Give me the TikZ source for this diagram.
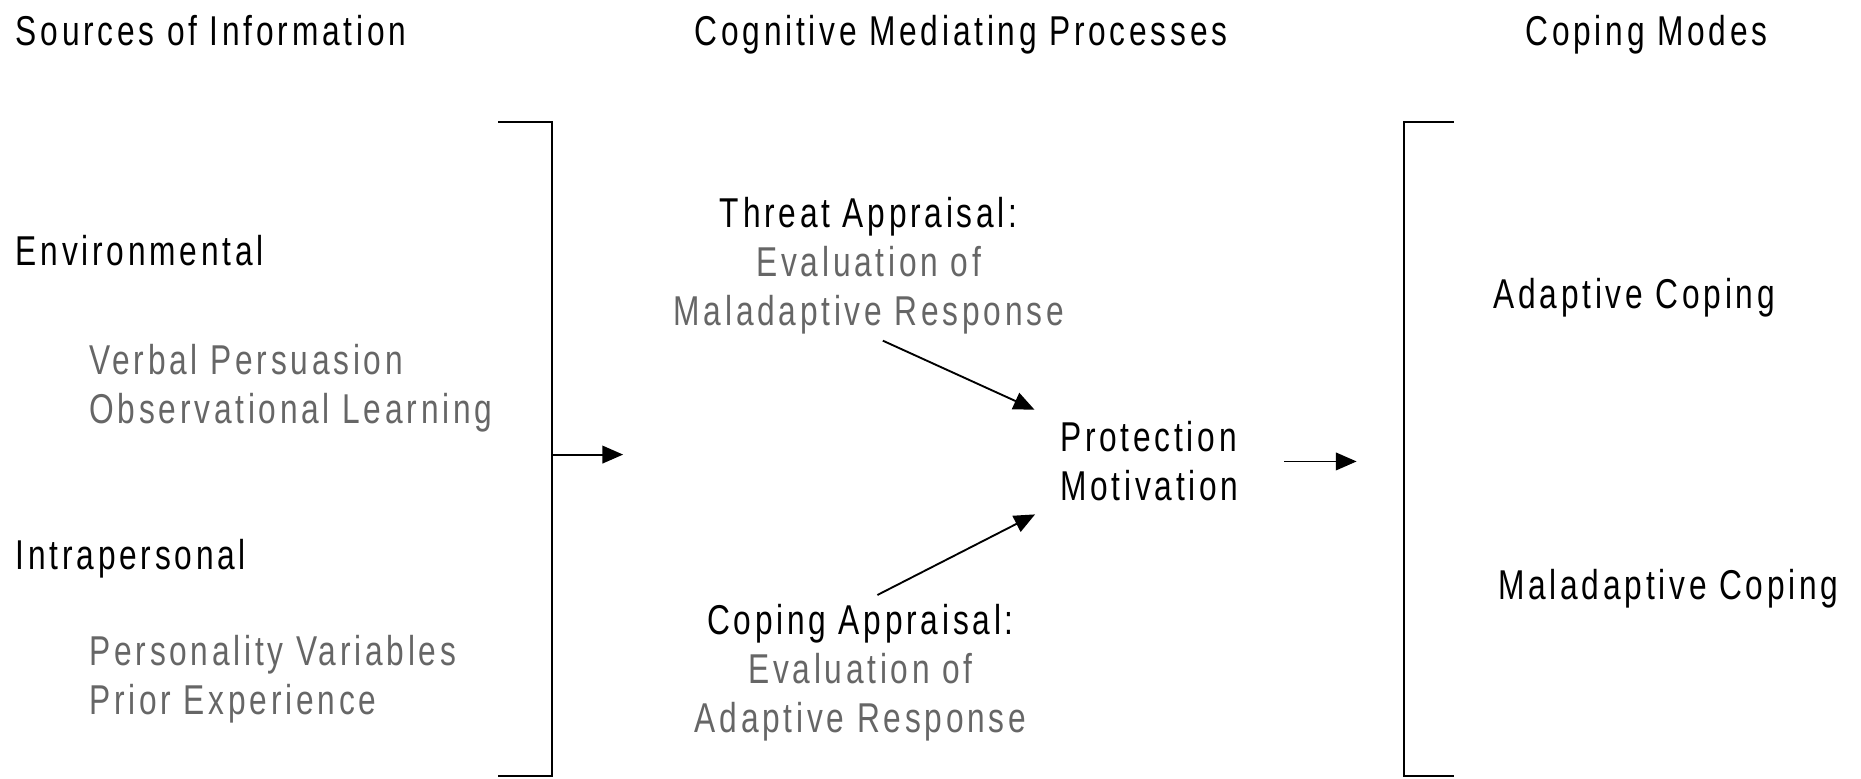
\documentclass[tikz,border=0pt]{standalone}
\usepackage{fontspec}
\setmainfont[FakeStretch=0.76,LetterSpace=9]{Liberation Sans}
\usetikzlibrary{arrows.meta}
\definecolor{subgray}{gray}{0.4}

\begin{document}
\begin{tikzpicture}[x=0.02cm,y=-0.02cm]
\tikzstyle{txt}=[inner sep=0pt,font=\fontsize{20}{23.5}\selectfont]
\tikzstyle{head}=[txt,anchor=base west]
\tikzstyle{item}=[txt,anchor=base west,align=left,text=subgray]
\tikzstyle{brk}=[line width=0.75pt]
\tikzstyle{arr}=[line width=0.9pt,-{Triangle[length=10pt,width=8.5pt]}]
\useasboundingbox (0,0) rectangle (1568,656);

% Column headings
\node (SRC) [head] at (13,38) {Sources of Information};
\node (CMP) [head] at (585,38) {Cognitive Mediating Processes};
\node (CM) [head] at (1285,38) {Coping Modes};

% Sources of information (multi-line nodes sit on their last line)
\node (ENV) [head] at (13,224) {Environmental};
\node (ENVI) [item] at (75,357) {Verbal Persuasion\\Observational Learning};
\node (INTRA) [head] at (13,480) {Intrapersonal};
\node (INTRAI) [item] at (75,602) {Personality Variables\\Prior Experience};

% Appraisals and motivation
\node (TA) [txt,anchor=base,align=center] at (732,274) {Threat Appraisal:\\{\color{subgray}Evaluation of}\\{\color{subgray}Maladaptive Response}};
\node (CA) [txt,anchor=base,align=center] at (725,617) {Coping Appraisal:\\{\color{subgray}Evaluation of}\\{\color{subgray}Adaptive Response}};
\node (PM) [txt,anchor=base west,align=left] at (893,422) {Protection\\Motivation};

% Coping modes
\node (AC) [head] at (1258,260) {Adaptive Coping};
\node (MC) [head] at (1262,505) {Maladaptive Coping};

% Brackets
\coordinate (LB) at (465,383);
\coordinate (LBE) at (525,383);
\coordinate (RB) at (1183,388);
\draw[brk] (420,103) -- (465,103) -- (465,654) -- (420,654);
\draw[brk] (1225,103) -- (1183,103) -- (1183,654) -- (1225,654);

\draw[arr] (LB) -- (LBE);
\draw[arr,shorten <=0.26cm,shorten >=0.47cm] (TA.south) -- (PM.north west);
\draw[arr,shorten <=0.32cm,shorten >=0.47cm] (CA.north) -- (PM.south west);
\draw[arr,shorten <=0.76cm,shorten >=0.8cm] (PM.east) -- (PM.east -| RB);

\end{tikzpicture}
\end{document}
